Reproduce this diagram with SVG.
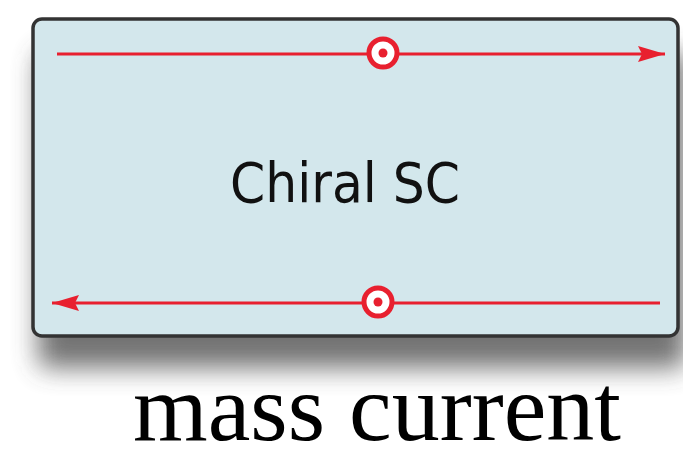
<svg xmlns="http://www.w3.org/2000/svg" width="683" height="462" viewBox="0 0 683 462">
<style>
.cur{stroke:#e8202f;stroke-width:3;fill:none}
.ring{fill:#fff;stroke:#e8202f;stroke-width:5}
.dot{fill:#e8202f}
</style>
<defs>
<filter id="sh" x="-10%" y="-20%" width="120%" height="150%">
<feGaussianBlur stdDeviation="13"/>
</filter>
<marker id="ah" viewBox="0 0 27 16" refX="27" refY="8" markerWidth="27" markerHeight="16" orient="auto-start-reverse" markerUnits="userSpaceOnUse">
<path d="M0,0 L27,8 L0,16 L4,8 Z" fill="#e8202f"/>
</marker>
</defs>
<rect width="683" height="462" fill="#fff"/>
<g id="sc">
<rect x="38" y="52" width="648" height="316" rx="10" fill="#444" opacity="0.75" filter="url(#sh)"/>
<rect x="33" y="19" width="645" height="317" rx="9" fill="#d3e7ec" stroke="#333" stroke-width="3.5"/>
<text x="345" y="202" font-family="DejaVu Sans, sans-serif" font-size="56" text-anchor="middle" textLength="230" lengthAdjust="spacingAndGlyphs" fill="#111">Chiral SC</text>
</g>
<g id="connectors">
<line class="cur" x1="57" y1="54" x2="665" y2="54" marker-end="url(#ah)"/>
<line class="cur" x1="660" y1="303" x2="52" y2="303" marker-end="url(#ah)"/>
</g>
<g id="vortex-top">
<circle class="ring" cx="383" cy="53" r="14"/>
<circle class="dot" cx="383" cy="53" r="4.5"/>
</g>
<g id="vortex-bottom">
<circle class="ring" cx="378" cy="302" r="14"/>
<circle class="dot" cx="378" cy="302" r="4.5"/>
</g>
<text id="label" x="377" y="440" font-family="Liberation Serif, serif" font-size="96" text-anchor="middle" fill="#000">mass current</text>
</svg>
